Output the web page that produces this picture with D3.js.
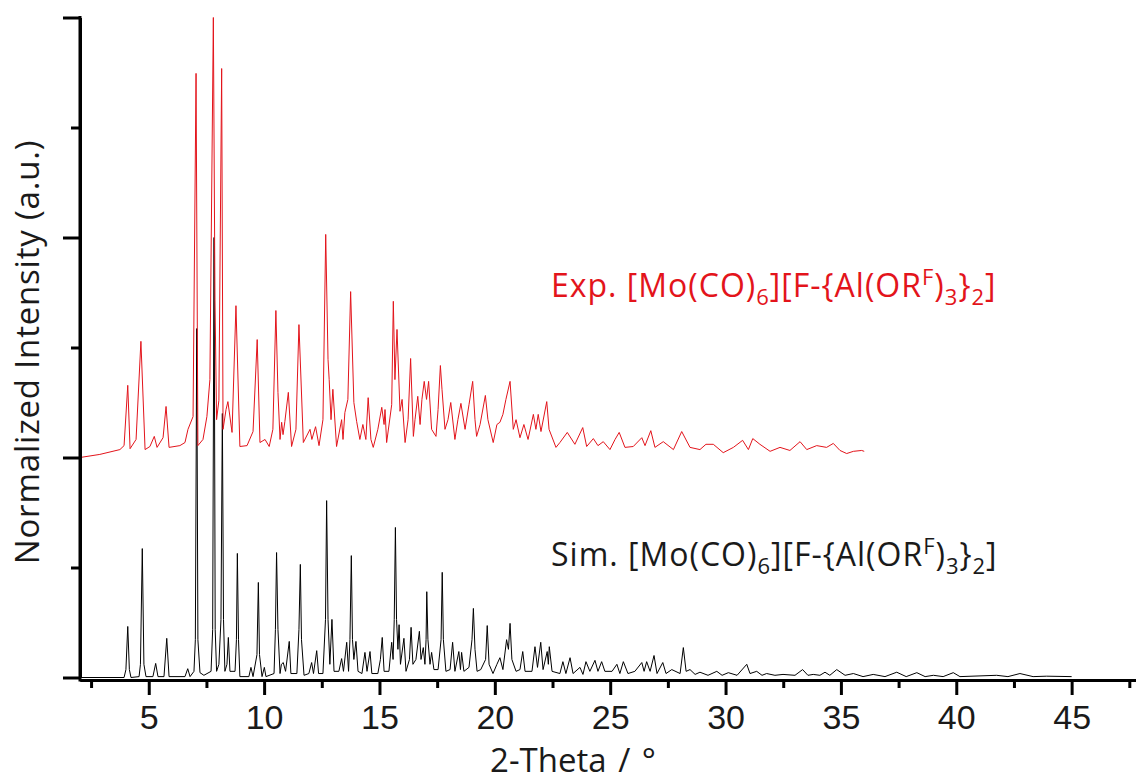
<!DOCTYPE html>
<html>
<head>
<meta charset="utf-8">
<script src="https://cdn.jsdelivr.net/npm/d3@7/dist/d3.min.js"></script>
<style>
  html, body { margin: 0; padding: 0; background: #fff; }
  svg { display: block; font-family: 'Open Sans', Lato, sans-serif; }
  .axis path, .axis line { stroke: #000; stroke-width: 3; }
  .axis text { font-size: 34px; fill: #1a1a1a; }
</style>
</head>
<body>
<svg id="chart" width="1136" height="782"></svg>
<script>
/*
  PXRD: experimental vs simulated pattern
  Vertices are [2-theta, normalized intensity] read off the figure
*/
const expPattern = [
  [2.02, 0.0], [2.88, 0.007], [3.75, 0.018], [3.93, 0.027], [4.09, 0.164], [4.19, 0.02],
  [4.45, 0.041], [4.66, 0.264], [4.84, 0.018], [5.05, 0.025], [5.24, 0.048], [5.36, 0.023],
  [5.62, 0.045], [5.75, 0.116], [5.88, 0.023], [6.35, 0.027], [6.57, 0.034], [6.70, 0.064],
  [6.92, 0.093], [7.05, 0.873], [7.13, 0.027], [7.35, 0.041], [7.52, 0.093], [7.65, 0.177],
  [7.80, 1.0], [7.87, 0.36], [7.94, 0.086], [8.04, 0.13], [8.16, 0.884], [8.22, 0.064],
  [8.35, 0.109], [8.43, 0.127], [8.61, 0.057], [8.78, 0.345], [8.95, 0.025], [9.26, 0.027],
  [9.52, 0.059], [9.70, 0.268], [9.82, 0.034], [10.04, 0.041], [10.22, 0.025], [10.38, 0.064],
  [10.51, 0.334], [10.60, 0.148], [10.69, 0.041], [10.76, 0.08], [10.82, 0.052], [10.90, 0.082],
  [11.05, 0.148], [11.19, 0.025], [11.38, 0.064], [11.51, 0.302], [11.70, 0.034], [11.99, 0.064],
  [12.07, 0.041], [12.23, 0.07], [12.38, 0.027], [12.55, 0.086], [12.67, 0.507], [12.77, 0.223],
  [12.82, 0.177], [12.90, 0.086], [12.98, 0.155], [13.14, 0.025], [13.36, 0.086], [13.42, 0.041],
  [13.50, 0.102], [13.63, 0.132], [13.75, 0.377], [13.89, 0.125], [14.01, 0.082], [14.15, 0.041],
  [14.28, 0.075], [14.41, 0.041], [14.51, 0.136], [14.63, 0.041], [14.73, 0.023], [14.93, 0.064],
  [15.10, 0.114], [15.20, 0.075], [15.24, 0.109], [15.31, 0.034], [15.53, 0.120], [15.60, 0.355],
  [15.67, 0.177], [15.76, 0.291], [15.89, 0.105], [15.98, 0.132], [16.11, 0.034], [16.24, 0.086],
  [16.35, 0.225], [16.47, 0.048], [16.54, 0.086], [16.66, 0.139], [16.76, 0.075], [16.84, 0.132],
  [16.94, 0.173], [17.04, 0.132], [17.13, 0.173], [17.26, 0.064], [17.45, 0.048], [17.54, 0.109],
  [17.64, 0.209], [17.71, 0.155], [17.84, 0.064], [17.97, 0.086], [18.09, 0.125], [18.27, 0.041],
  [18.40, 0.086], [18.53, 0.123], [18.71, 0.064], [18.88, 0.120], [19.04, 0.173], [19.14, 0.086],
  [19.21, 0.048], [19.36, 0.075], [19.59, 0.141], [19.70, 0.086], [19.93, 0.034], [20.09, 0.075],
  [20.22, 0.080], [20.35, 0.098], [20.48, 0.132], [20.66, 0.173], [20.80, 0.064], [20.92, 0.086],
  [21.09, 0.045], [21.26, 0.075], [21.44, 0.041], [21.67, 0.098], [21.78, 0.064], [21.88, 0.098],
  [22.00, 0.059], [22.25, 0.127], [22.35, 0.064], [22.65, 0.023], [22.82, 0.034], [23.14, 0.057],
  [23.47, 0.030], [23.81, 0.068], [23.98, 0.025], [24.27, 0.043], [24.47, 0.027], [24.70, 0.036],
  [24.99, 0.018], [25.21, 0.041], [25.39, 0.057], [25.64, 0.023], [26.00, 0.025], [26.37, 0.045],
  [26.51, 0.027], [26.76, 0.061], [26.94, 0.023], [27.30, 0.036], [27.74, 0.018], [28.10, 0.059],
  [28.46, 0.023], [28.89, 0.018], [29.15, 0.030], [29.47, 0.030], [29.90, 0.011], [30.34, 0.023],
  [30.74, 0.039], [30.99, 0.018], [31.18, 0.043], [31.49, 0.030], [31.93, 0.014], [32.36, 0.023],
  [32.79, 0.016], [33.23, 0.036], [33.52, 0.018], [33.95, 0.027], [34.38, 0.023], [34.67, 0.032],
  [34.96, 0.016], [35.25, 0.009], [35.54, 0.014], [35.90, 0.016], [36.01, 0.014]
];

const simPattern = [
  [2.02, 0.0], [3.93, 0.0], [4.01, 0.018], [4.09, 0.116], [4.16, 0.018], [4.23, 0.0],
  [4.58, 0.002], [4.64, 0.03], [4.72, 0.293], [4.79, 0.03], [4.88, 0.002], [5.18, 0.002],
  [5.30, 0.032], [5.40, 0.002], [5.66, 0.002], [5.78, 0.089], [5.88, 0.002], [6.57, 0.002],
  [6.69, 0.02], [6.79, 0.002], [6.96, 0.014], [7.02, 0.086], [7.08, 0.793], [7.13, 0.086],
  [7.22, 0.011], [7.39, 0.005], [7.70, 0.014], [7.77, 0.109], [7.83, 1.0], [7.88, 0.109],
  [7.94, 0.014], [8.04, 0.03], [8.13, 0.132], [8.19, 0.6], [8.24, 0.132], [8.30, 0.014],
  [8.39, 0.03], [8.45, 0.091], [8.52, 0.014], [8.74, 0.014], [8.80, 0.086], [8.84, 0.282],
  [8.89, 0.086], [8.95, 0.002], [9.34, 0.002], [9.43, 0.023], [9.52, 0.002], [9.69, 0.052],
  [9.75, 0.216], [9.80, 0.052], [9.91, 0.002], [10.01, 0.023], [10.08, 0.002], [10.43, 0.009],
  [10.49, 0.109], [10.54, 0.284], [10.60, 0.109], [10.69, 0.009], [10.75, 0.03], [10.83, 0.034],
  [10.93, 0.014], [11.09, 0.082], [11.16, 0.009], [11.42, 0.009], [11.51, 0.109], [11.57, 0.257],
  [11.62, 0.086], [11.73, 0.005], [11.94, 0.009], [12.06, 0.034], [12.14, 0.009], [12.28, 0.061],
  [12.36, 0.009], [12.55, 0.009], [12.66, 0.132], [12.71, 0.402], [12.77, 0.132], [12.85, 0.03],
  [12.94, 0.132], [13.03, 0.014], [13.24, 0.014], [13.36, 0.043], [13.44, 0.014], [13.58, 0.08],
  [13.66, 0.014], [13.72, 0.086], [13.78, 0.277], [13.83, 0.086], [13.89, 0.041], [13.98, 0.082],
  [14.07, 0.014], [14.24, 0.009], [14.37, 0.057], [14.46, 0.014], [14.59, 0.059], [14.67, 0.009],
  [14.93, 0.009], [15.04, 0.041], [15.12, 0.091], [15.20, 0.014], [15.41, 0.014], [15.53, 0.08],
  [15.59, 0.041], [15.64, 0.132], [15.69, 0.341], [15.74, 0.132], [15.80, 0.064], [15.85, 0.12],
  [15.91, 0.03], [16.06, 0.089], [16.15, 0.014], [16.30, 0.041], [16.37, 0.114], [16.45, 0.03],
  [16.58, 0.041], [16.73, 0.105], [16.80, 0.041], [16.90, 0.068], [16.97, 0.03], [17.02, 0.086],
  [17.05, 0.195], [17.10, 0.086], [17.19, 0.03], [17.26, 0.057], [17.36, 0.018], [17.54, 0.018],
  [17.67, 0.086], [17.72, 0.239], [17.77, 0.086], [17.88, 0.014], [18.06, 0.018], [18.17, 0.08],
  [18.27, 0.014], [18.44, 0.059], [18.51, 0.018], [18.56, 0.057], [18.66, 0.014], [18.88, 0.023],
  [19.01, 0.086], [19.07, 0.157], [19.14, 0.064], [19.23, 0.014], [19.39, 0.018], [19.60, 0.041],
  [19.67, 0.118], [19.75, 0.03], [19.92, 0.009], [20.09, 0.03], [20.22, 0.045], [20.35, 0.018],
  [20.51, 0.086], [20.59, 0.064], [20.66, 0.123], [20.74, 0.041], [20.92, 0.014], [21.09, 0.018],
  [21.21, 0.059], [21.31, 0.014], [21.61, 0.014], [21.74, 0.070], [21.85, 0.023], [21.99, 0.08],
  [22.09, 0.018], [22.27, 0.059], [22.32, 0.03], [22.36, 0.07], [22.48, 0.014], [22.82, 0.009],
  [22.95, 0.036], [23.08, 0.009], [23.26, 0.045], [23.39, 0.009], [23.69, 0.023], [23.82, 0.007],
  [23.95, 0.036], [24.12, 0.014], [24.34, 0.039], [24.47, 0.014], [24.63, 0.036], [24.77, 0.014],
  [25.08, 0.014], [25.29, 0.03], [25.42, 0.009], [25.57, 0.036], [25.77, 0.009], [26.07, 0.014],
  [26.37, 0.034], [26.47, 0.014], [26.58, 0.036], [26.73, 0.014], [26.90, 0.05], [27.03, 0.009],
  [27.28, 0.034], [27.42, 0.009], [27.67, 0.018], [28.03, 0.009], [28.17, 0.068], [28.29, 0.014],
  [28.46, 0.018], [28.68, 0.007], [28.89, 0.012], [29.24, 0.005], [29.62, 0.014], [29.85, 0.005],
  [30.12, 0.011], [30.50, 0.005], [30.92, 0.03], [31.06, 0.009], [31.35, 0.014], [31.58, 0.005],
  [31.78, 0.009], [32.14, 0.005], [32.49, 0.007], [33.01, 0.005], [33.34, 0.018], [33.57, 0.005],
  [33.80, 0.007], [34.09, 0.005], [34.31, 0.012], [34.52, 0.005], [34.82, 0.018], [35.18, 0.005],
  [35.54, 0.009], [35.96, 0.002], [36.40, 0.007], [36.91, 0.002], [37.42, 0.012], [37.83, 0.002],
  [38.29, 0.011], [38.65, 0.002], [39.01, 0.005], [39.43, 0.002], [39.87, 0.011], [40.16, 0.002],
  [41.75, 0.005], [42.24, 0.002], [42.76, 0.009], [43.33, 0.002], [43.92, 0.003], [45.0, 0.002]
];

const xTicks = [5, 10, 15, 20, 25, 30, 35, 40, 45];
const xMinorTicks = [2.5, 7.5, 12.5, 17.5, 22.5, 27.5, 32.5, 37.5, 42.5, 47.5];
const yTicks = [0, 1, 2, 3];
const yMinorTicks = [0.5, 1.5, 2.5];

// each pattern is normalized to 1 and stretched over two axis units
const EXP_OFFSET = 1;
const SIM_OFFSET = 0;
const STRETCH = 2;

const WIDTH = 1136;
const HEIGHT = 782;
const margin = { left: 80, right: 0, top: 17.5, bottom: 104.5 };

const svg = d3.select('#chart');

/*
 * Scales
 */
const scale = {};
scale.x = d3.scaleLinear()
  .domain([2.02, 47.79])
  .range([margin.left, WIDTH - margin.right]);

scale.y = d3.scaleLinear()
  .domain([0, 3])
  .range([HEIGHT - margin.bottom, margin.top]);

/*
 * Patterns (simulated below, experimental drawn over it)
 */
function patternLine(offset) {
  return d3.line()
    .x(d => scale.x(d[0]))
    .y(d => scale.y(offset + STRETCH * d[1]));
}

svg.append('path')
  .datum(simPattern)
  .attr('fill', 'none')
  .attr('stroke', '#000')
  .attr('stroke-width', 1)
  .attr('d', patternLine(SIM_OFFSET));

svg.append('path')
  .datum(expPattern)
  .attr('fill', 'none')
  .attr('stroke', '#e3141b')
  .attr('stroke-width', 1)
  .attr('d', patternLine(EXP_OFFSET));

/*
 * Axes
 */
const AXIS_Y = 680;

svg.append('g')
  .attr('class', 'axis')
  .attr('transform', `translate(0, ${AXIS_Y})`)
  .call(d3.axisBottom(scale.x).tickValues(xMinorTicks).tickSize(8).tickSizeOuter(0).tickFormat(''));

svg.append('g')
  .attr('class', 'axis')
  .attr('transform', `translate(0, ${AXIS_Y})`)
  .call(d3.axisBottom(scale.x).tickValues(xTicks).tickSize(15).tickSizeOuter(0).tickPadding(10))
  .call(g => g.selectAll('text').attr('fill', '#1a1a1a'));

svg.append('g')
  .attr('class', 'axis')
  .attr('transform', `translate(${margin.left}, 0)`)
  .call(d3.axisLeft(scale.y).tickValues(yMinorTicks).tickSize(9).tickSizeOuter(0).tickFormat(''));

svg.append('g')
  .attr('class', 'axis')
  .attr('transform', `translate(${margin.left}, 0)`)
  .call(d3.axisLeft(scale.y).tickValues(yTicks).tickSize(17).tickSizeOuter(0).tickFormat(''))
  .call(g => g.select('.domain').attr('d', `M0,${margin.top - 1.5}V${AXIS_Y + 1.5}`));

/*
 * Axis titles
 */
svg.append('text')
  .attr('x', 573)
  .attr('y', 772)
  .attr('text-anchor', 'middle')
  .style('font-size', '33px')
  .style('word-spacing', '3px')
  .attr('fill', '#1a1a1a')
  .text('2-Theta / °');

svg.append('text')
  .attr('transform', 'translate(39, 352) rotate(-90)')
  .attr('text-anchor', 'middle')
  .style('font-size', '33px')
  .style('letter-spacing', '0.8px')
  .attr('fill', '#1a1a1a')
  .text('Normalized Intensity (a.u.)');

/*
 * Pattern labels with sub/superscripts
 */
function addLabel(prefix, x, y, color) {
  const t = svg.append('text')
    .attr('x', x)
    .attr('y', y)
    .attr('fill', color)
    .style('font-size', '32px')
    .style('letter-spacing', '1px');
  const parts = [
    [prefix + ' [Mo(CO)', 0],
    ['6', 8],
    [']', -8],
    ['[F-{Al(OR', 0],
    ['F', -12],
    [')', 12],
    ['3', 8],
    ['}', -8],
    ['2', 8],
    [']', -8]
  ];
  parts.forEach(([str, dy], i) => {
    const small = (i === 1 || i === 4 || i === 6 || i === 8);
    t.append('tspan')
      .attr('dy', dy)
      .style('font-size', small ? '22px' : null)
      .text(str);
  });
}

addLabel('Exp.', 551, 297, '#e3141b');
addLabel('Sim.', 551, 566, '#1a1a1a');
</script>
</body>
</html>
